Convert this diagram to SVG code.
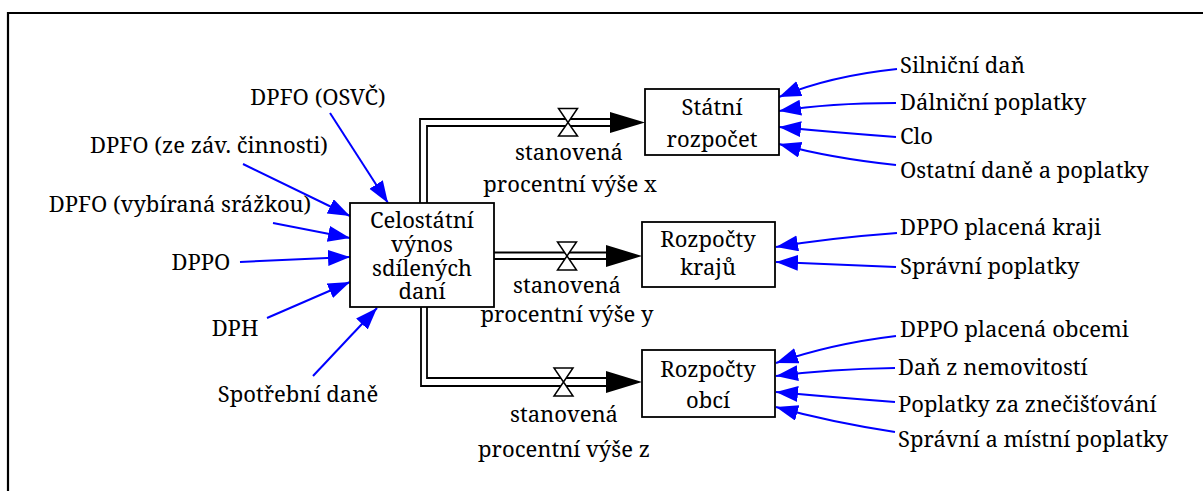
<svg xmlns="http://www.w3.org/2000/svg" width="1203" height="491" viewBox="0 0 1203 491">
<style>
text{font-family:"Noto Serif","DejaVu Serif",serif;font-size:22px;fill:#000}
.c{text-anchor:middle}
.box{fill:#fff;stroke:#000;stroke-width:1.8}
.pipe{fill:none;stroke:#000;stroke-width:1.8}
.valve{fill:#fff;stroke:#000;stroke-width:1.5}
.head{fill:#000}
.in{fill:none;stroke:#0000ff;stroke-width:2;marker-end:url(#bh)}
</style>
<defs>
<marker id="bh" markerUnits="userSpaceOnUse" markerWidth="24" markerHeight="18" refX="22" refY="8" orient="auto">
<path d="M0,0 L22,8 L0,16 Z" fill="#0000ff"/>
</marker>
</defs>
<rect width="1203" height="491" fill="#fff"/>
<path d="M8,491 V13 H1203" fill="none" stroke="#000" stroke-width="2.2"/>

<g id="connectors">
<path class="pipe" d="M420,203 V119 H612"/>
<path class="pipe" d="M427,203 V126 H612"/>
<polygon class="head" points="610,112 645,122.5 610,133"/>
<path class="pipe" d="M494,252.5 H608"/>
<path class="pipe" d="M494,259 H608"/>
<polygon class="head" points="606,245 642,256 606,267"/>
<path class="pipe" d="M421,307 V386 H608"/>
<path class="pipe" d="M427,307 V378 H608"/>
<polygon class="head" points="606,371 642,382 606,393"/>
<path class="in" d="M330,113 L388,203"/>
<path class="in" d="M243,164 L350,216"/>
<path class="in" d="M273,223 L350,238"/>
<path class="in" d="M240,262 L350,257"/>
<path class="in" d="M267,318 L350,282"/>
<path class="in" d="M313,376 L377,308"/>
<path class="in" d="M897,69 Q830,76 779,97"/>
<path class="in" d="M896,103 Q830,103 779,111"/>
<path class="in" d="M896,137 Q830,132 779,127"/>
<path class="in" d="M896,165 Q830,158 779,144"/>
<path class="in" d="M897,233 Q830,238 776,247"/>
<path class="in" d="M896,267 Q830,264 776,262"/>
<path class="in" d="M896,336 Q830,344 776,363"/>
<path class="in" d="M895,368 Q830,369 776,376"/>
<path class="in" d="M895,402 Q830,397 776,392"/>
<path class="in" d="M895,432 Q830,422 776,407"/>
</g>

<g id="valve-x">
<polygon class="valve" points="558.5,108.5 577.5,108.5 568,122.5 577.5,136 558.5,136 568,122.5"/>
<text class="c" x="569" y="160">stanovená</text>
<text class="c" x="570" y="192">procentní výše x</text>
</g>
<g id="valve-y">
<polygon class="valve" points="557.5,242 576.5,242 567,256 576.5,270 557.5,270 567,256"/>
<text class="c" x="567" y="293">stanovená</text>
<text class="c" x="567" y="322">procentní výše y</text>
</g>
<g id="valve-z">
<polygon class="valve" points="554,368 573,368 563.5,382 573,396 554,396 563.5,382"/>
<text class="c" x="564" y="422">stanovená</text>
<text class="c" x="564" y="457">procentní výše z</text>
</g>

<g id="celostatni">
<rect class="box" x="350" y="203" width="144" height="104"/>
<text class="c" x="422" y="228">Celostátní</text>
<text class="c" x="422" y="252">výnos</text>
<text class="c" x="422" y="276">sdílených</text>
<text class="c" x="422" y="299">daní</text>
</g>
<g id="statni">
<rect class="box" x="645" y="89" width="134" height="66"/>
<text class="c" x="712" y="115">Státní</text>
<text class="c" x="712" y="147">rozpočet</text>
</g>
<g id="kraje">
<rect class="box" x="642" y="222" width="133" height="65"/>
<text class="c" x="708" y="247">Rozpočty</text>
<text class="c" x="708" y="275">krajů</text>
</g>
<g id="obce">
<rect class="box" x="642" y="350" width="133" height="67"/>
<text class="c" x="708" y="377">Rozpočty</text>
<text class="c" x="708" y="408">obcí</text>
</g>

<g id="src-left">
<text class="c" x="318" y="105">DPFO (OSVČ)</text>
<text class="c" x="209" y="153">DPFO (ze záv. činnosti)</text>
<text class="c" x="180" y="212">DPFO (vybíraná srážkou)</text>
<text class="c" x="201" y="270">DPPO</text>
<text class="c" x="235" y="336">DPH</text>
<text class="c" x="298" y="402">Spotřební daně</text>
</g>
<g id="src-right">
<text x="900" y="73">Silniční daň</text>
<text x="900" y="110">Dálniční poplatky</text>
<text x="900" y="144">Clo</text>
<text x="900" y="178">Ostatní daně a poplatky</text>
<text x="900" y="235">DPPO placená kraji</text>
<text x="900" y="274">Správní poplatky</text>
<text x="900" y="337">DPPO placená obcemi</text>
<text x="898" y="375">Daň z nemovitostí</text>
<text x="898" y="412">Poplatky za znečišťování</text>
<text x="898" y="447">Správní a místní poplatky</text>
</g>
</svg>
